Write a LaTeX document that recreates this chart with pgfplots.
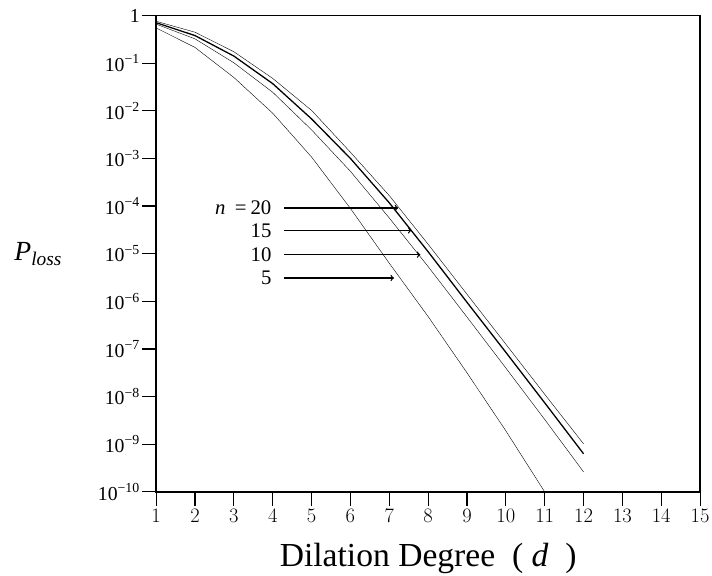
\documentclass[border=0pt]{standalone}
\usepackage{fontspec}
\setmainfont{Liberation Serif}
\usepackage{pgfplots}
\pgfplotsset{compat=1.18}

% P_loss against dilation degree d (log10 values converted)
\begin{document}
\begin{tikzpicture}
\begin{axis}[
  scale only axis, width=548.5bp, height=480.3bp,
  ymode=log, xmin=1, xmax=15, ymin=1e-10, ymax=1,
  xtick={1,2,...,15},
  ytick={1e-10,1e-9,1e-8,1e-7,1e-6,1e-5,1e-4,1e-3,1e-2,1e-1,1},
  yticklabels={10\textsuperscript{−10},10\textsuperscript{−9},10\textsuperscript{−8},
    10\textsuperscript{−7},10\textsuperscript{−6},10\textsuperscript{−5},10\textsuperscript{−4},
    10\textsuperscript{−3},10\textsuperscript{−2},10\textsuperscript{−1},1},
  yminorticks=false,
  tick align=outside, xtick pos=bottom, ytick pos=left,
  major tick length=14bp,
  tick style={black, line width=1.2bp},
  axis line style={line width=1.6bp},
  xticklabel style={font=\fontsize{21}{21}\selectfont},
  yticklabel style={font=\fontsize{20}{20}\selectfont, xshift=1bp},
  xlabel={Dilation Degree \ ( \textit{d} \ )},
  xlabel style={font=\fontsize{34}{34}\selectfont, at={(axis description cs:0.5,0)},
    anchor=center, yshift=-67bp},
  cycle list={{black, line width=1.3bp, no marks}},
]
\addplot coordinates {(1,0.759)(2,0.447)(3,0.174)(4,0.0479)(5,0.0102)(6,1.35e-3)
  (7,1.66e-4)(8,1.58e-5)(9,1.41e-6)(10,1.26e-7)(11,1.12e-8)(12,1.02e-9)};
\addplot coordinates {(1,0.708)(2,0.380)(3,0.141)(4,0.0372)(5,6.76e-3)(6,1.00e-3)
  (7,1.17e-4)(8,1.10e-5)(9,9.55e-7)(10,8.51e-8)(11,7.41e-9)(12,6.31e-10)};
\addplot coordinates {(1,0.661)(2,0.324)(3,0.102)(4,0.0245)(5,3.98e-3)(6,5.37e-4)
  (7,5.62e-5)(8,5.37e-6)(9,4.68e-7)(10,3.98e-8)(11,3.31e-9)(12,2.63e-10)};
\addplot coordinates {(1,0.550)(2,0.214)(3,0.0501)(4,8.91e-3)(5,1.07e-3)(6,8.91e-5)
  (7,6.31e-6)(8,4.79e-7)(9,3.16e-8)(10,1.91e-9)(11,1e-10)};

% labels and arrows
\begin{scope}[font=\fontsize{21}{21}\selectfont]
\node[anchor=east, inner sep=0pt] at (axis cs:3.97,9.12e-5)
  {\textit{n}\hspace{0.45em}=\hspace{0.2em}20};
\node[anchor=east, inner sep=0pt] at (axis cs:3.97,3.09e-5) {15};
\node[anchor=east, inner sep=0pt] at (axis cs:3.97,9.55e-6) {10};
\node[anchor=east, inner sep=0pt] at (axis cs:3.97,3.09e-6) {5};
\end{scope}
\draw[->, line width=1.3bp] (axis cs:4.30,9.12e-5) -- (axis cs:7.23,9.12e-5);
\draw[->, line width=1.3bp] (axis cs:4.30,3.09e-5) -- (axis cs:7.57,3.09e-5);
\draw[->, line width=1.3bp] (axis cs:4.30,9.55e-6) -- (axis cs:7.80,9.55e-6);
\draw[->, line width=1.3bp] (axis cs:4.30,3.09e-6) -- (axis cs:7.12,3.09e-6);
\end{axis}
\node[font=\fontsize{28}{28}\selectfont] at ([xshift=-119bp]current axis.west)
  {\textit{P}\textsubscript{\textit{loss}}};
\pgfresetboundingbox
\path[use as bounding box] ([xshift=-157.5bp,yshift=-84bp]current axis.south west)
  rectangle ([xshift=12bp,yshift=15.7bp]current axis.north east);
\end{tikzpicture}
\end{document}
